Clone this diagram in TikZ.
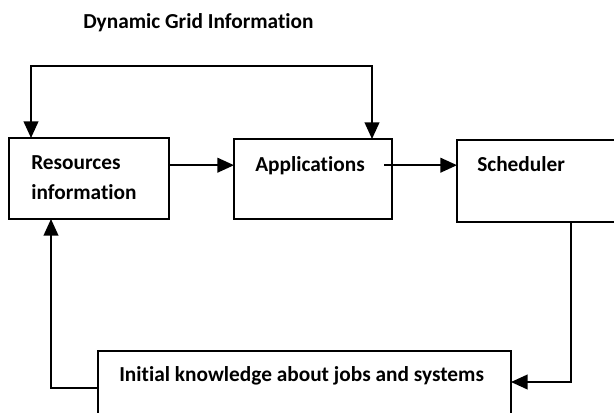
\documentclass[tikz,border=0pt]{standalone}
\usepackage{fontspec}
\setmainfont{Carlito}[Ligatures=NoCommon]
\usetikzlibrary{arrows.meta}
\tikzset{
    >={Triangle[length=12.5pt,width=11pt]},
    block/.style={draw,rectangle,line width=1.1pt,inner sep=0pt,outer sep=0pt,anchor=north west},
    caption/.style={anchor=base west,inner sep=0pt,align=left,
                    font=\bfseries\fontsize{16}{22.5}\selectfont},
    link/.style={draw,line width=1.5pt}
}

\begin{document}
\begin{tikzpicture}[x=0.75pt,y=-0.75pt]
\useasboundingbox (0,0) rectangle (614,412);
\clip (0,0) rectangle (614,412);

% Title
\node[caption] (title) at (83,28) {Dynamic Grid Information};

% Blocks
\node[block,minimum width=120pt,minimum height=60.75pt] (res) at (9,138) {};
\node[block,minimum width=118.5pt,minimum height=60pt] (app) at (234,139) {};
\node[block,minimum width=150pt,minimum height=61.5pt] (sch) at (457,140) {};
\node[block,minimum width=309.75pt,minimum height=60pt] (ini) at (98,351) {};

% Block texts (base is the last line)
\node[caption] (resTxt) at (31,199) {Resources\\information};
\node[caption] (appTxt) at (255,171) {Applications};
\node[caption] (schTxt) at (477,171) {Scheduler};
\node[caption] (iniTxt) at (119,381) {Initial knowledge about jobs and systems};

% Bends
\coordinate (loopL) at (31,66);
\coordinate (loopR) at (372,66);
\coordinate (schOut) at (571,382);
\coordinate (resIn) at (51,388);

% Links
\draw[link,<->] (res.north -| loopL) -- (loopL) -- (loopR) -- (app.north -| loopR);
\draw[link,->] (res.east |- appTxt) -- (app.west |- appTxt);
\draw[link,->] ([xshift=-6pt]app.east |- appTxt) -- (sch.west |- appTxt);
\draw[link,->] (sch.south -| schOut) -- (schOut) -- (ini.east |- schOut);
\draw[link,->] (ini.west |- resIn) -- (resIn) -- (res.south -| resIn);

\end{tikzpicture}
\end{document}
